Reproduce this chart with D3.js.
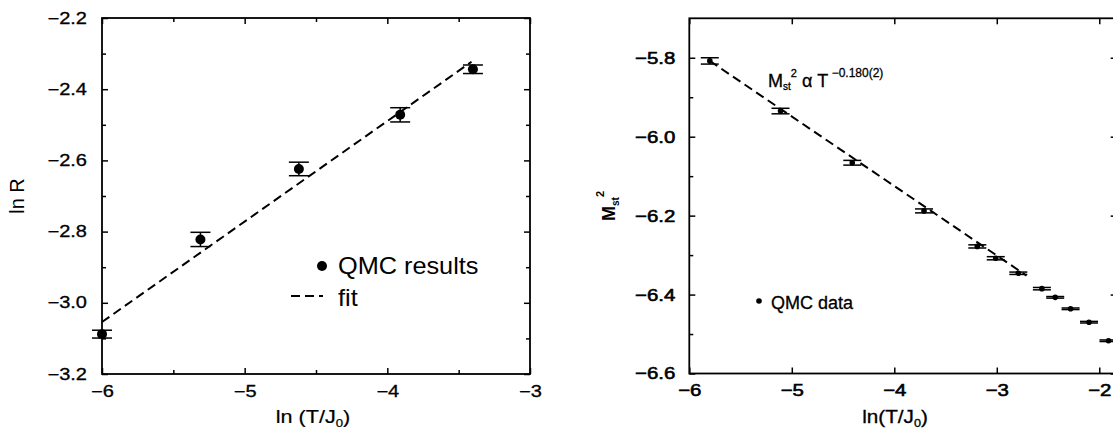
<!DOCTYPE html>
<html>
<head>
<meta charset="utf-8">
<script src="https://cdn.jsdelivr.net/npm/d3@7"></script>
<style>
body { margin: 0; background: #fff; }
svg text { font-family: "Liberation Sans", Arial, Helvetica, sans-serif; fill: #000; }
</style>
</head>
<body>
<svg id="chart" width="1113" height="430"></svg>
<script>
// left panel: ln R against ln(T/J0)
const leftT = [-6.0, -5.31, -4.62, -3.91, -3.40];
const leftLnR = [-3.088, -2.822, -2.624, -2.472, -2.344];
const leftErr = [0.011, 0.020, 0.019, 0.020, 0.012];
const leftFitT = [-6.0, -3.41];
const leftFitLnR = [-3.054, -2.323];
const leftXTicks = [-6, -5, -4, -3];
const leftYTicks = [-3.2, -3.0, -2.8, -2.6, -2.4, -2.2];

// right panel: ln M_st^2 against ln(T/J0)
const rightT = [-5.80, -5.11, -4.41, -3.71, -3.19, -3.01, -2.79, -2.56, -2.43, -2.28, -2.10, -1.91];
const rightLnM = [-5.808, -5.935, -6.066, -6.188, -6.278, -6.308, -6.346, -6.385, -6.407, -6.436, -6.470, -6.517];
const rightErr = [0.008, 0.007, 0.006, 0.005, 0.004, 0.004, 0.003, 0.003, 0.002, 0.002, 0.002, 0.002];
const rightFitT = [-5.80, -2.71];
const rightFitLnM = [-5.808, -6.352];
const rightXTicks = [-6, -5, -4, -3, -2];
const rightYTicks = [-6.6, -6.4, -6.2, -6.0, -5.8];

const svg = d3.select("#chart");

// the scan is a bit wider than it is tall, so text gets stretched sideways
function stretch(sel, sx) {
    sel.attr("transform", `scale(${sx},1)`);
}

function drawFrame(g, x, y, o) {
    const [x0, x1] = x.range();
    const [y0, y1] = y.range();

    const bottom = g.append("g").attr("transform", `translate(0,${y0})`)
        .call(d3.axisBottom(x).tickValues(o.xTicks).tickSize(-6).tickSizeOuter(0)
            .tickPadding(o.padBottom).tickFormat(d3.format("d")));
    const left = g.append("g").attr("transform", `translate(${x0},0)`)
        .call(d3.axisLeft(y).tickValues(o.yTicks).tickSize(-6).tickSizeOuter(0)
            .tickPadding(o.padLeft).tickFormat(d3.format(".1f")));
    g.append("g").attr("transform", `translate(0,${y1})`)
        .call(d3.axisTop(x).tickValues(o.xTicks).tickSize(-6).tickSizeOuter(0).tickFormat(""));
    g.append("g").attr("transform", `translate(${x1},0)`)
        .call(d3.axisRight(y).tickValues(o.yTicks).tickSize(-6).tickSizeOuter(0).tickFormat(""));

    if (o.xMinor) {
        g.append("g").attr("transform", `translate(0,${y0})`)
            .call(d3.axisBottom(x).tickValues(o.xMinor).tickSize(-4).tickSizeOuter(0).tickFormat(""));
        g.append("g").attr("transform", `translate(0,${y1})`)
            .call(d3.axisTop(x).tickValues(o.xMinor).tickSize(-4).tickSizeOuter(0).tickFormat(""));
    }
    if (o.yMinor) {
        g.append("g").attr("transform", `translate(${x0},0)`)
            .call(d3.axisLeft(y).tickValues(o.yMinor).tickSize(-4).tickSizeOuter(0).tickFormat(""));
        if (o.yMinorRight) {
            g.append("g").attr("transform", `translate(${x1},0)`)
                .call(d3.axisRight(y).tickValues(o.yMinor).tickSize(-4).tickSizeOuter(0).tickFormat(""));
        }
    }

    g.selectAll(".domain").remove();
    g.selectAll(".tick line").attr("stroke", "#000").attr("stroke-width", 1.5);

    bottom.selectAll("text").attr("font-size", o.fontSize).call(stretch, o.sx);
    left.selectAll("text").attr("font-size", o.fontSize)
        .attr("x", -(o.padLeft) / o.sx).call(stretch, o.sx);
    g.selectAll(".tick text").attr("font-family", null).attr("fill", "#000")
        .attr("stroke", o.textStroke ? "#000" : null).attr("stroke-width", o.textStroke || null);

    g.append("rect")
        .attr("x", x0).attr("y", y1)
        .attr("width", x1 - x0).attr("height", y0 - y1)
        .attr("fill", "none").attr("stroke", "#000").attr("stroke-width", 1.8);
}

function drawPoints(g, x, y, xs, ys, errs, r, capW) {
    const pts = xs.map((t, i) => ({ t: t, v: ys[i], e: errs[i] }));
    const eb = g.append("g").attr("stroke", "#000").attr("stroke-width", 1.5);
    eb.selectAll("line.bar").data(pts).join("line").attr("class", "bar")
        .attr("x1", d => x(d.t)).attr("x2", d => x(d.t))
        .attr("y1", d => y(d.v - d.e)).attr("y2", d => y(d.v + d.e));
    eb.selectAll("line.top").data(pts).join("line").attr("class", "top")
        .attr("x1", d => x(d.t) - capW).attr("x2", d => x(d.t) + capW)
        .attr("y1", d => y(d.v + d.e)).attr("y2", d => y(d.v + d.e));
    eb.selectAll("line.bot").data(pts).join("line").attr("class", "bot")
        .attr("x1", d => x(d.t) - capW).attr("x2", d => x(d.t) + capW)
        .attr("y1", d => y(d.v - d.e)).attr("y2", d => y(d.v - d.e));
    g.append("g").selectAll("circle").data(pts).join("circle")
        .attr("cx", d => x(d.t)).attr("cy", d => y(d.v)).attr("r", r).attr("fill", "#000");
}

function drawFit(g, x, y, xs, ys) {
    const fit = xs.map((t, i) => [t, ys[i]]);
    g.append("path").datum(fit)
        .attr("fill", "none").attr("stroke", "#000").attr("stroke-width", 2)
        .attr("stroke-dasharray", "9,5")
        .attr("d", d3.line().x(d => x(d[0])).y(d => y(d[1])));
}

// ---- left panel ----
const xL = d3.scaleLinear().domain([-6, -3]).range([102, 530]);
const yL = d3.scaleLinear().domain([-3.2, -2.2]).range([374, 18]);
const gL = svg.append("g");

drawFrame(gL, xL, yL, {
    xTicks: leftXTicks, yTicks: leftYTicks,
    xMinor: [-5.5, -4.5, -3.5],
    yMinor: [-3.1, -2.9, -2.7, -2.5, -2.3], yMinorRight: true,
    padBottom: 12, padLeft: 15, fontSize: 16, sx: 1.25, textStroke: 0.3
});
drawFit(gL, xL, yL, leftFitT, leftFitLnR);
drawPoints(gL, xL, yL, leftT, leftLnR, leftErr, 5, 10);

// legend
gL.append("circle").attr("cx", 322).attr("cy", 266).attr("r", 5).attr("fill", "#000");
gL.append("text").attr("x", 338 / 1.1).attr("y", 274).attr("font-size", 23)
    .text("QMC results").call(stretch, 1.1);
gL.append("line").attr("x1", 291).attr("x2", 323).attr("y1", 296).attr("y2", 296)
    .attr("stroke", "#000").attr("stroke-width", 2).attr("stroke-dasharray", "9,5");
gL.append("text").attr("x", 338 / 1.1).attr("y", 306).attr("font-size", 23)
    .text("fit").call(stretch, 1.1);

// axis titles
gL.append("text").attr("transform", "translate(24,196) rotate(-90)")
    .attr("text-anchor", "middle").attr("font-size", 20).text("ln R");
const tl = gL.append("text").attr("x", 313 / 1.2).attr("y", 423)
    .attr("text-anchor", "middle").attr("font-size", 18)
    .attr("stroke", "#000").attr("stroke-width", 0.2).call(stretch, 1.2);
tl.append("tspan").text("ln (T/J");
tl.append("tspan").attr("font-size", 11).attr("dy", 4).text("0");
tl.append("tspan").attr("dy", -4).text(")");

// ---- right panel ----
const xR = d3.scaleLinear().domain([-6, -1.83]).range([689.3, 1116.7]);
const yR = d3.scaleLinear().domain([-6.6, -5.7]).range([373.5, 18.3]);
const gR = svg.append("g");

drawFrame(gR, xR, yR, {
    xTicks: rightXTicks, yTicks: rightYTicks,
    yMinor: [-6.5, -6.3, -6.1, -5.9], yMinorRight: false,
    padBottom: 10, padLeft: 14, fontSize: 17, sx: 1.2, textStroke: 0.6
});
drawFit(gR, xR, yR, rightFitT, rightFitLnM);
drawPoints(gR, xR, yR, rightT, rightLnM, rightErr, 2.8, 9);

// power-law annotation
const ann = gR.append("text").attr("x", 768).attr("y", 87).attr("font-size", 18)
    .attr("stroke", "#000").attr("stroke-width", 0.3);
ann.append("tspan").text("M");
ann.append("tspan").attr("font-size", 10).attr("dy", 3).text("st");
ann.append("tspan").attr("font-size", 11).attr("dy", -13).text("2");
ann.append("tspan").attr("dy", 10).text(" α T");
ann.append("tspan").attr("font-size", 12).attr("dy", -10).text(" −0.180(2)");

// legend
gR.append("circle").attr("cx", 759).attr("cy", 301).attr("r", 2.8).attr("fill", "#000");
gR.append("text").attr("x", 771).attr("y", 309).attr("font-size", 18)
    .attr("stroke", "#000").attr("stroke-width", 0.3).text("QMC data");

// axis titles
const ml = gR.append("text").attr("transform", "translate(615,206) rotate(-90)")
    .attr("text-anchor", "middle").attr("font-size", 18).attr("font-weight", "bold");
ml.append("tspan").text("M");
ml.append("tspan").attr("font-size", 10).attr("dy", 4).text("st");
ml.append("tspan").attr("font-size", 11).attr("dy", -15).text("2");
const tr = gR.append("text").attr("x", 895 / 1.15).attr("y", 423)
    .attr("text-anchor", "middle").attr("font-size", 18)
    .attr("stroke", "#000").attr("stroke-width", 0.3).call(stretch, 1.15);
tr.append("tspan").text("ln(T/J");
tr.append("tspan").attr("font-size", 11).attr("dy", 4).text("0");
tr.append("tspan").attr("dy", -4).text(")");
</script>
</body>
</html>
